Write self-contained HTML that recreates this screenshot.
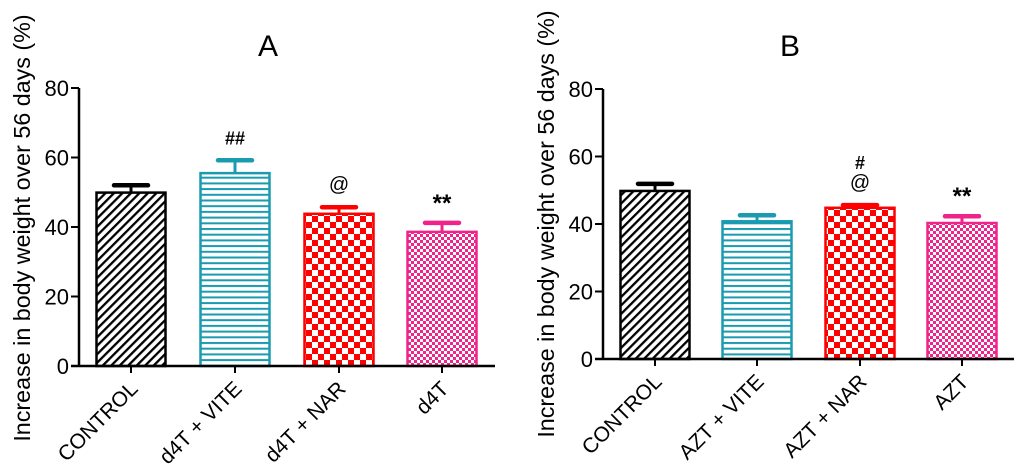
<!DOCTYPE html>
<html><head><meta charset="utf-8"><style>
html,body{margin:0;padding:0;background:#fff;}
svg{display:block;font-family:"Liberation Sans",Arial,sans-serif;}
</style></head><body>
<svg id="chart" width="1024" height="474" viewBox="0 0 1024 474" xmlns="http://www.w3.org/2000/svg">
<defs>
<pattern id="pDiag" patternUnits="userSpaceOnUse" width="6" height="6" patternTransform="rotate(45)">
<rect width="6" height="6" fill="#fff"/><rect width="2.3" height="6" fill="#000"/></pattern>
<pattern id="pHoriz" patternUnits="userSpaceOnUse" width="6" height="5.7">
<rect width="6" height="5.7" fill="#fff"/><rect y="0" width="6" height="2" fill="#1a9bb0"/></pattern>
<pattern id="pCheck" patternUnits="userSpaceOnUse" width="12" height="12">
<rect width="12" height="12" fill="#fff"/><rect width="6" height="6" fill="#f00"/><rect x="6" y="6" width="6" height="6" fill="#f00"/></pattern>
<pattern id="pFine" patternUnits="userSpaceOnUse" width="6" height="6">
<rect width="6" height="6" fill="#fff"/><rect width="3" height="3" fill="#f0238a"/><rect x="3" y="3" width="3" height="3" fill="#f0238a"/></pattern>
</defs>
</svg>
<script>
const categoriesA = ["CONTROL","d4T + VITE","d4T + NAR","d4T"];
const valuesA = [49.9, 55.5, 43.8, 38.6];
const errorsA = [52.0, 59.2, 45.7, 41.2];
const annotA = ["", "##", "@", "**"];
const categoriesB = ["CONTROL","AZT + VITE","AZT + NAR","AZT"];
const valuesB = [49.8, 40.8, 44.8, 40.3];
const errorsB = [51.9, 42.6, 45.6, 42.3];
const annotB = ["", "", "#\n@", "**"];
const yTicks = [0, 20, 40, 60, 80];

const NS = "http://www.w3.org/2000/svg";
const svg = document.getElementById("chart");
const fills = ["url(#pDiag)","url(#pHoriz)","url(#pCheck)","url(#pFine)"];
const strokes = ["#000","#1a9bb0","#f00","#f0238a"];
function mk(tag, attrs, parent){ const e=document.createElementNS(NS,tag); for(const k in attrs) e.setAttribute(k,attrs[k]); (parent||svg).appendChild(e); return e; }

function panel(p){
  const g = mk("g",{});
  
  
  const y = v => p.y0 - (v/80)*(p.y0-p.y80);
  const t = mk("text",{x:p.titleX,y:56,"font-size":30,"text-anchor":"middle",fill:"#000"},g);
  t.textContent = p.title;
  
  
  const yl = mk("text",{x:0,y:0,"font-size":23.3,"text-anchor":"middle",fill:"#000",transform:`translate(${p.ax-49},${p.labelY}) rotate(-90)`},g);
  yl.textContent = "Increase in body weight over 56 days (%)";
  
  
  p.cats.forEach((c,i)=>{
    const cx = p.centers[i], w = 69;
    const r = mk("rect",{x:cx-w/2,y:y(p.vals[i]),width:w,height:p.y0-y(p.vals[i]),fill:fills[i],stroke:strokes[i],"stroke-width":2.5},g);
    
    
    const e1 = mk("line",{x1:cx,x2:cx,y1:y(p.vals[i]),y2:y(p.errs[i]),stroke:strokes[i],"stroke-width":3},g);
    
    
    const e2 = mk("line",{x1:cx-17,x2:cx+17,y1:y(p.errs[i]),y2:y(p.errs[i]),stroke:strokes[i],"stroke-width":4.5,"stroke-linecap":"round"},g);
    
    
    const lines = p.ann[i] ? p.ann[i].split("\n") : [];
    lines.forEach((s,k)=>{
      const a = mk("text",{x:cx,y:y(p.errs[i])-(s==="**"?12:16)-(lines.length-1-k)*20,"font-size":s==="**"?24:(s==="@"?20:18),"text-anchor":"middle",fill:"#000","font-weight":(s==="**"||s[0]==="#")?"bold":"normal"},g);
      a.textContent = s;
      
      
    });
    const tk = mk("line",{x1:cx,x2:cx,y1:p.y0,y2:p.y0+7,stroke:"#000","stroke-width":2},g);
    
    
    const lb = mk("text",{x:0,y:0,"font-size":21,"text-anchor":"end",fill:"#000",transform:`translate(${cx+8},${p.y0+24}) rotate(-45)`},g);
    lb.textContent = c;
    
    
  });
  const ya = mk("line",{x1:p.ax,x2:p.ax,y1:p.y80,y2:p.y0,stroke:"#000","stroke-width":2.5},g);
  
  
  const xa = mk("line",{x1:p.ax-8,x2:p.xEnd,y1:p.y0,y2:p.y0,stroke:"#000","stroke-width":2.5},g);
  
  
  yTicks.forEach(v=>{
    const l = mk("line",{x1:p.ax-8,x2:p.ax,y1:y(v),y2:y(v),stroke:"#000","stroke-width":2},g);
    
    
    const tx = mk("text",{x:p.ax-10,y:y(v)+8,"font-size":22,"text-anchor":"end",fill:"#000"},g);
    tx.textContent = v;
    
    
  });
}
panel({name:"panel-a",title:"A",titleX:268,ax:79,y0:366,y80:88,xEnd:495,labelY:228,centers:[131,235,339,442],cats:categoriesA,vals:valuesA,errs:errorsA,ann:annotA});
panel({name:"panel-b",title:"B",titleX:790,ax:603,y0:359,y80:89,xEnd:1014,labelY:224,centers:[655,757,860,962],cats:categoriesB,vals:valuesB,errs:errorsB,ann:annotB});
</script>
</body></html>
